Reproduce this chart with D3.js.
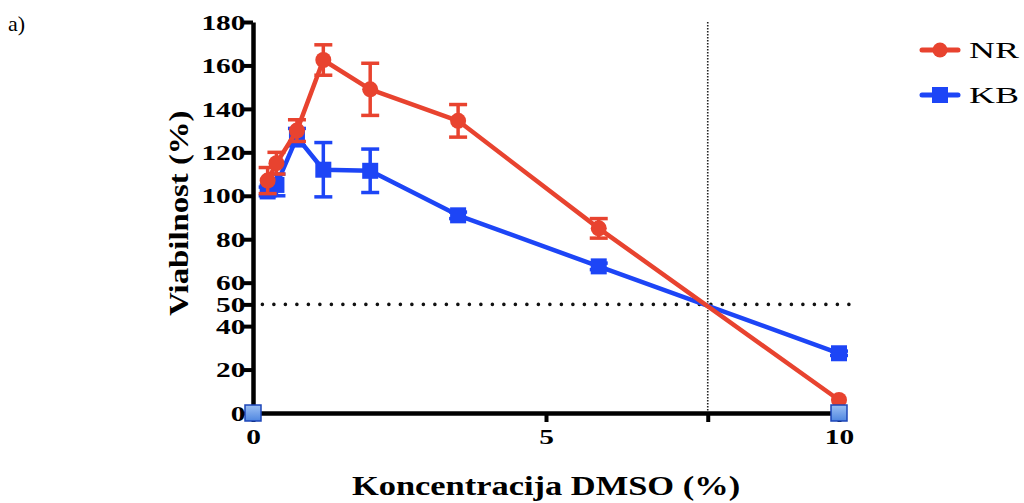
<!DOCTYPE html>
<html>
<head>
<meta charset="utf-8">
<script src="https://cdn.jsdelivr.net/npm/d3@7"></script>
</head>
<body style="margin:0; background:#fff">
<svg width="1024" height="503"></svg>
<script>
// Concentration of DMSO (%)
const conc = [0.25, 0.4, 0.75, 1.2, 2, 3.5, 5.9, 10]
// NR viability and error
const nrValues = [107, 115, 130, 162.5, 149, 134.5, 85, 6]
const nrErrors = [6, 5, 5, 7, 12, 7.5, 4.5, 0]
// KB viability and error
const kbValues = [102, 105, 127, 112, 111.5, 91, 67.5, 27.5]
const kbErrors = [2, 5, 4, 12.5, 10, 1.5, 1.5, 1]
// axis ticks
const yTicks = [0, 20, 40, 50, 60, 80, 100, 120, 140, 160, 180]
const xTicks = [0, 5, 10]
const ic50 = 7.76
const halfLine = 50
// markers sitting on the x axis
const axisPoints = [0, 10]

const red = '#e8432f'
const blue = '#1d45f6'
const serif = '"Liberation Serif", serif'
// the original text is drawn wide, stretch it a little
const stretch = 1.4

const svg = d3.select('svg')

const x = d3.scaleLinear().domain([0, 10]).range([253, 839])
const y = d3.scaleLinear().domain([0, 180]).range([413, 22])

// Reference lines
svg.append('line')
  .attr('x1', x(ic50)).attr('x2', x(ic50))
  .attr('y1', y(180)).attr('y2', y(0))
  .attr('stroke', '#222').attr('stroke-width', 1.6)
  .attr('stroke-dasharray', '1.4 1.6')

svg.append('line')
  .attr('x1', x(0.16)).attr('x2', 860)
  .attr('y1', y(halfLine)).attr('y2', y(halfLine))
  .attr('stroke', '#111').attr('stroke-width', 3.6)
  .attr('stroke-linecap', 'round')
  .attr('stroke-dasharray', '0 11.5')

// Axes
const yAxis = d3.axisLeft(y).tickValues(yTicks).tickSize(9)
const xAxis = d3.axisBottom(x).tickValues(xTicks.concat([ic50]))
  .tickSize(9).tickPadding(7)
  .tickFormat(d => xTicks.includes(d) ? d : '')

function styleAxis(g) {
  g.attr('font-family', null).attr('font-size', null)
  g.select('.domain').attr('stroke', '#000').attr('stroke-width', 4.5)
  g.selectAll('.tick line').attr('stroke', '#000').attr('stroke-width', 4)
  g.selectAll('.tick text')
    .attr('fill', '#000')
    .attr('transform', `scale(${stretch},1)`)
    .style('font-family', serif)
    .style('font-weight', 'bold')
    .style('font-size', '21px')
}

svg.append('g')
  .attr('transform', `translate(${x(0)},0)`)
  .call(yAxis.tickSizeOuter(0))
  .call(styleAxis)
  .selectAll('.tick text')
    .attr('x', -7.5 / stretch)
    .attr('dy', '0.34em')

svg.append('g')
  .attr('transform', `translate(0,${y(0)})`)
  .call(xAxis.tickSizeOuter(0))
  .call(styleAxis)

// Axis titles
svg.append('text')
  .attr('transform', `translate(188,${y(92)}) rotate(-90) scale(1.17,1)`)
  .attr('text-anchor', 'middle')
  .style('font-family', serif).style('font-weight', 'bold').style('font-size', '28px')
  .text('Viabilnost (%)')

svg.append('text')
  .attr('transform', 'translate(546,495) scale(1.23,1)')
  .attr('text-anchor', 'middle')
  .style('font-family', serif).style('font-weight', 'bold').style('font-size', '28px')
  .text('Koncentracija DMSO (%)')

svg.append('text')
  .attr('x', 8).attr('y', 31)
  .style('font-family', serif).style('font-size', '22px')
  .text('a)')

// Series
const series = [
  { name: 'NR', values: nrValues, errors: nrErrors, color: red, shape: 'circle' },
  { name: 'KB', values: kbValues, errors: kbErrors, color: blue, shape: 'square' }
]

const line = d3.line().x(d => x(d[0])).y(d => y(d[1]))

// draw KB first so NR sits on top
series.slice().reverse().forEach(s => {
  const pts = conc.map((c, i) => [c, s.values[i], s.errors[i]])
  const g = svg.append('g')

  g.append('path')
    .datum(pts)
    .attr('d', line)
    .attr('fill', 'none')
    .attr('stroke', s.color)
    .attr('stroke-width', 4.5)
    .attr('stroke-linejoin', 'round')

  const err = g.selectAll('.err')
    .data(pts.filter(d => d[2] > 0))
    .enter().append('g')
  err.append('line')
    .attr('x1', d => x(d[0])).attr('x2', d => x(d[0]))
    .attr('y1', d => y(d[1] - d[2])).attr('y2', d => y(d[1] + d[2]))
    .attr('stroke', s.color).attr('stroke-width', 3.5)
  ;[-1, 1].forEach(sign => {
    err.append('line')
      .attr('x1', d => x(d[0]) - 9).attr('x2', d => x(d[0]) + 9)
      .attr('y1', d => y(d[1] + sign * d[2])).attr('y2', d => y(d[1] + sign * d[2]))
      .attr('stroke', s.color).attr('stroke-width', 3.5)
  })

  if (s.shape === 'circle') {
    g.selectAll('.pt').data(pts).enter().append('circle')
      .attr('cx', d => x(d[0])).attr('cy', d => y(d[1]))
      .attr('r', 8)
      .attr('fill', s.color)
  } else {
    g.selectAll('.pt').data(pts).enter().append('rect')
      .attr('x', d => x(d[0]) - 8).attr('y', d => y(d[1]) - 8)
      .attr('width', 16).attr('height', 16)
      .attr('fill', s.color)
  }
})

// Light blue squares on the axis
const grad = svg.append('defs').append('linearGradient')
  .attr('id', 'lb').attr('x1', 0).attr('y1', 0).attr('x2', 0).attr('y2', 1)
grad.append('stop').attr('offset', '0%').attr('stop-color', '#9cc0f4')
grad.append('stop').attr('offset', '100%').attr('stop-color', '#4f86e0')

svg.selectAll('.axpt').data(axisPoints).enter().append('rect')
  .attr('x', d => x(d) - 8).attr('y', y(0) - 8)
  .attr('width', 16).attr('height', 16)
  .attr('fill', 'url(#lb)')
  .attr('stroke', '#1c46b8').attr('stroke-width', 1.5)

// Legend
const legend = svg.append('g')
series.forEach((s, i) => {
  const ly = 50 + i * 45
  legend.append('line')
    .attr('x1', 922).attr('x2', 958).attr('y1', ly).attr('y2', ly)
    .attr('stroke', s.color).attr('stroke-width', 5).attr('stroke-linecap', 'round')
  if (s.shape === 'circle') {
    legend.append('circle').attr('cx', 940).attr('cy', ly).attr('r', 7.5).attr('fill', s.color)
  } else {
    legend.append('rect').attr('x', 932).attr('y', ly - 8).attr('width', 16).attr('height', 16).attr('fill', s.color)
  }
  legend.append('text')
    .attr('transform', `translate(969,${ly + 8}) scale(1.5,1)`)
    .style('font-family', serif).style('font-size', '24px')
    .text(s.name)
})
</script>
</body>
</html>
